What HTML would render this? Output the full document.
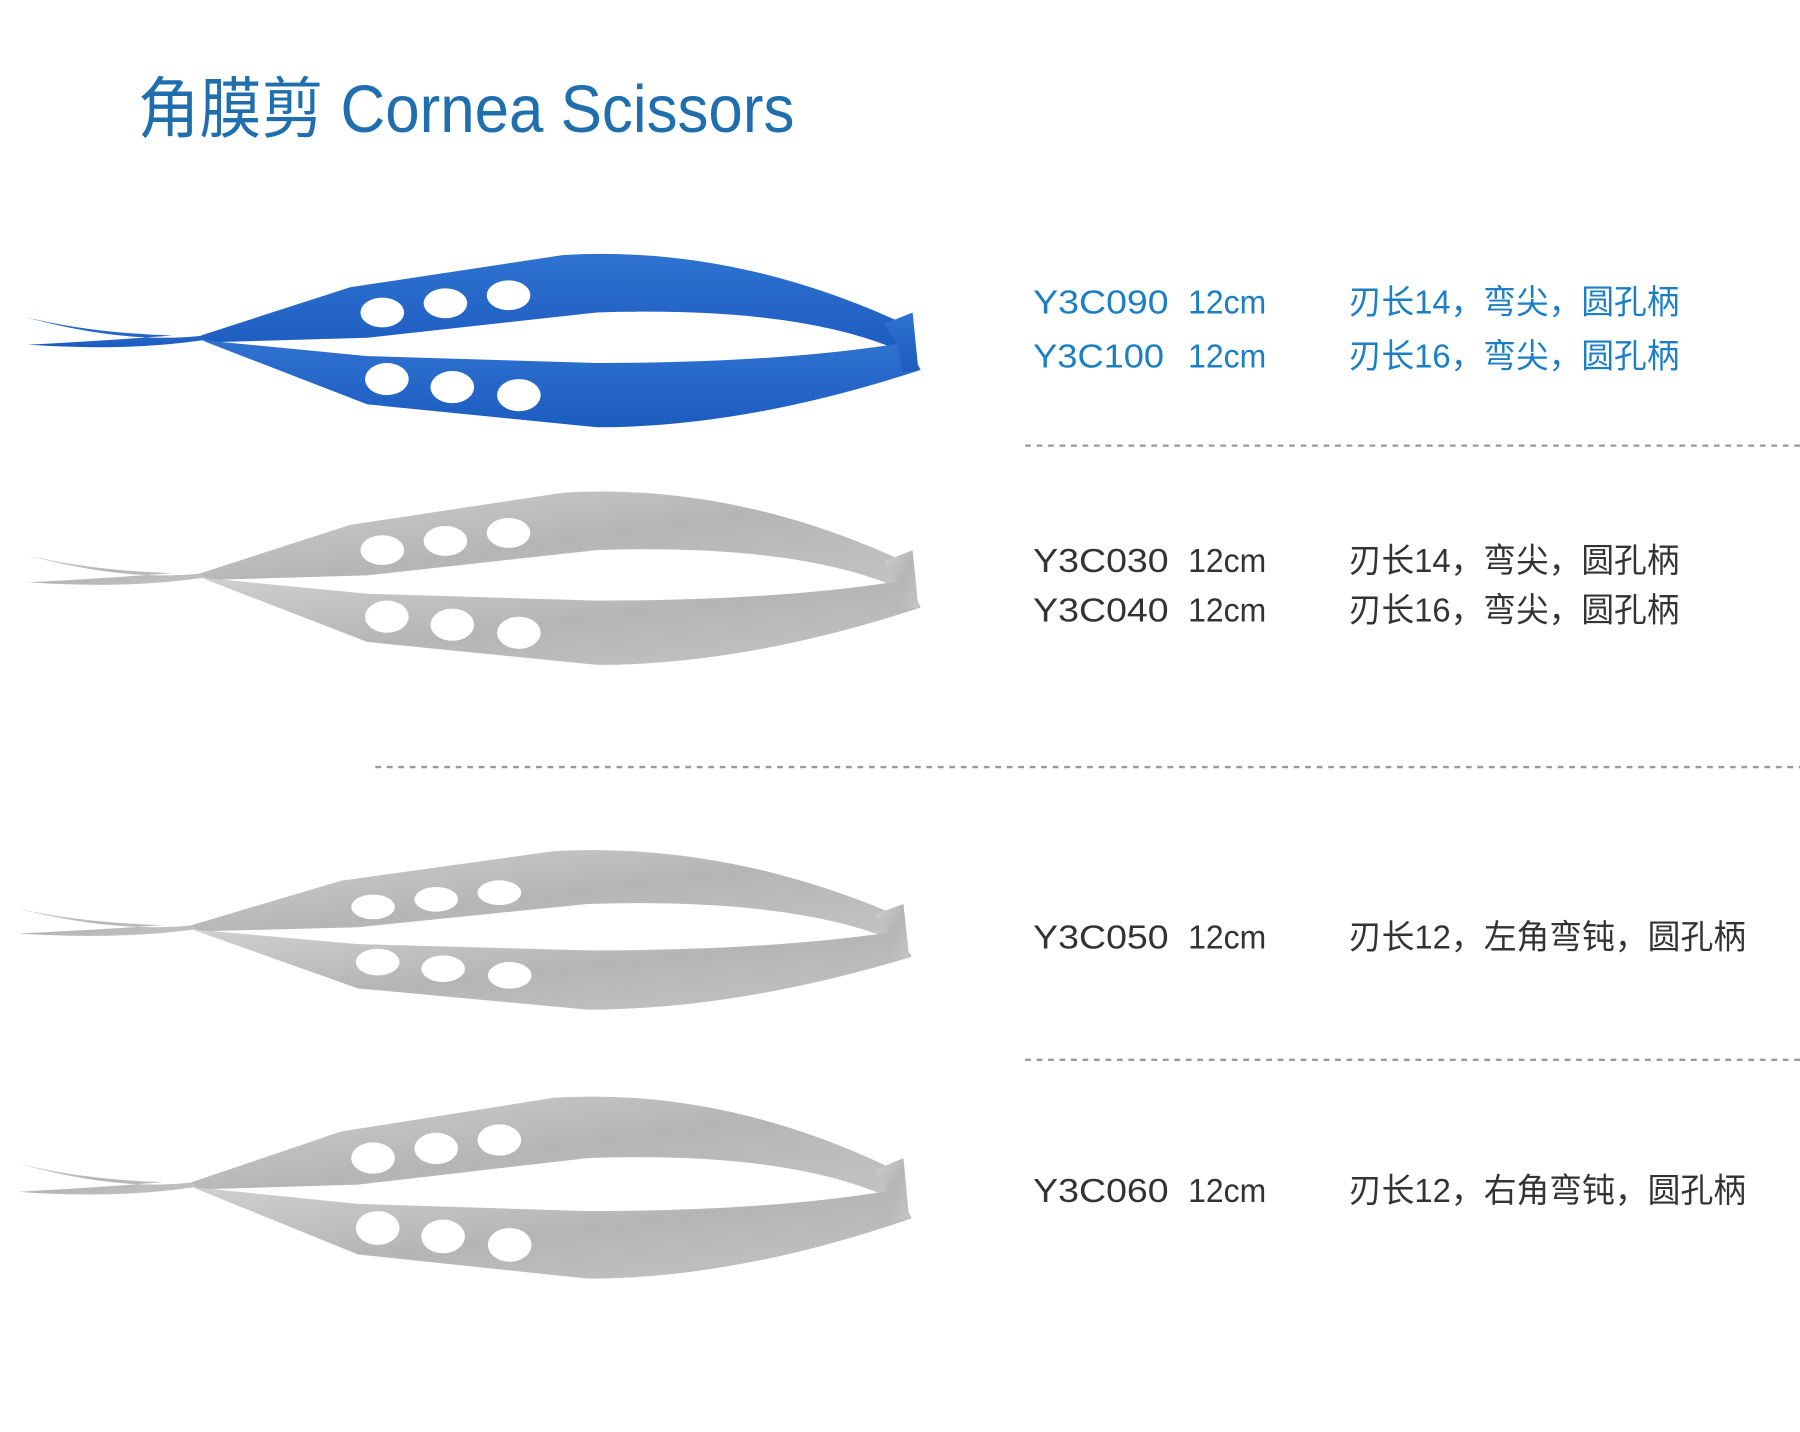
<!DOCTYPE html>
<html><head><meta charset="utf-8"><style>
html,body{margin:0;padding:0;background:#fff;}
svg{display:block}
.t{font-family:"Liberation Sans","Noto Sans CJK SC",sans-serif;font-size:29px;}
</style></head><body>
<svg width="1800" height="1432" viewBox="0 0 1568 1247" xmlns="http://www.w3.org/2000/svg">
<defs>
<linearGradient id="gb" x1="0" y1="0" x2="0" y2="1"><stop offset="0" stop-color="#2f72d0"/><stop offset="1" stop-color="#1c5cc0"/></linearGradient>
<linearGradient id="gg" x1="0" y1="0" x2="1" y2="1"><stop offset="0" stop-color="#d0d0d0"/><stop offset="0.5" stop-color="#b5b5b5"/><stop offset="1" stop-color="#c4c4c4"/></linearGradient>
<g id="sc">
 <path d="M22,276 Q110,300 178,292 L178,296 Q110,306 24,300 Q100,296 150,292 Q80,290 22,276Z"/>
 <path d="M175,292 L305,250 L490,222 Q640,213 790,283 L790,308 Q700,266 520,272 L320,294 L180,298 Z"/>
 <path d="M175,296 L320,310 L520,316 Q680,316 790,298 L802,322 Q650,372 520,372 L320,352 Z"/>
 <path d="M770,282 L795,272 L800,322 L786,324 L782,300 Z"/>
</g>
<g id="holes" fill="#fff">
 <ellipse cx="333" cy="272" rx="19" ry="13"/><ellipse cx="388" cy="264" rx="19" ry="13"/><ellipse cx="443" cy="257" rx="19" ry="13"/>
 <ellipse cx="337" cy="330" rx="19" ry="14"/><ellipse cx="394" cy="337" rx="19" ry="14"/><ellipse cx="452" cy="344" rx="19" ry="14"/>
</g>
</defs>
<text x="120" y="115" font-family="Liberation Sans,Noto Sans CJK SC,sans-serif" font-size="58" fill="#1f6fae" textLength="572" lengthAdjust="spacingAndGlyphs">角膜剪 Cornea Scissors</text>

<g fill="url(#gb)"><use href="#sc"/></g><use href="#holes"/>
<g transform="translate(0,207)"><g fill="url(#gg)"><use href="#sc"/></g><use href="#holes"/></g>
<g transform="translate(-8,537) scale(1,0.92)"><g fill="url(#gg)"><use href="#sc"/></g><g transform="translate(0,30) scale(1,0.9)"><use href="#holes"/></g></g>
<g transform="translate(-8,723) scale(1,1.05)"><g fill="url(#gg)"><use href="#sc"/></g><use href="#holes"/></g>

<g class="t" fill="#1a7fc4">
<text x="900" y="273" textLength="118" lengthAdjust="spacingAndGlyphs">Y3C090</text><text x="1035" y="273" textLength="68" lengthAdjust="spacingAndGlyphs">12cm</text><text x="1175" y="273" textLength="288" lengthAdjust="spacingAndGlyphs">刃长14，弯尖，圆孔柄</text>
<text x="900" y="320" textLength="114" lengthAdjust="spacingAndGlyphs">Y3C100</text><text x="1035" y="320" textLength="68" lengthAdjust="spacingAndGlyphs">12cm</text><text x="1175" y="320" textLength="288" lengthAdjust="spacingAndGlyphs">刃长16，弯尖，圆孔柄</text>
</g>
<g class="t" fill="#333">
<text x="900" y="498" textLength="118" lengthAdjust="spacingAndGlyphs">Y3C030</text><text x="1035" y="498" textLength="68" lengthAdjust="spacingAndGlyphs">12cm</text><text x="1175" y="498" textLength="288" lengthAdjust="spacingAndGlyphs">刃长14，弯尖，圆孔柄</text>
<text x="900" y="541" textLength="118" lengthAdjust="spacingAndGlyphs">Y3C040</text><text x="1035" y="541" textLength="68" lengthAdjust="spacingAndGlyphs">12cm</text><text x="1175" y="541" textLength="288" lengthAdjust="spacingAndGlyphs">刃长16，弯尖，圆孔柄</text>
<text x="900" y="826" textLength="118" lengthAdjust="spacingAndGlyphs">Y3C050</text><text x="1035" y="826" textLength="68" lengthAdjust="spacingAndGlyphs">12cm</text><text x="1175" y="826" textLength="346" lengthAdjust="spacingAndGlyphs">刃长12，左角弯钝，圆孔柄</text>
<text x="900" y="1047" textLength="118" lengthAdjust="spacingAndGlyphs">Y3C060</text><text x="1035" y="1047" textLength="68" lengthAdjust="spacingAndGlyphs">12cm</text><text x="1175" y="1047" textLength="346" lengthAdjust="spacingAndGlyphs">刃长12，右角弯钝，圆孔柄</text>
</g>
<g stroke="#999" stroke-width="2" stroke-dasharray="5,5">
<line x1="893" y1="388" x2="1568" y2="388"/>
<line x1="327" y1="668" x2="1568" y2="668"/>
<line x1="893" y1="923" x2="1568" y2="923"/>
</g>
</svg>
</body></html>
